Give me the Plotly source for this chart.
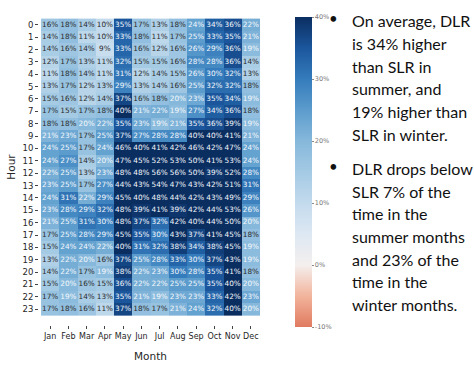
import plotly.graph_objects as go

# Percentage by which DLR exceeds SLR, by hour of day (rows) and month (columns)
months = ["Jan", "Feb", "Mar", "Apr", "May", "Jun", "Jul", "Aug", "Sep", "Oct", "Nov", "Dec"]
hours = list(range(24))
diff_pct = [
    [16, 18, 14, 10, 35, 17, 13, 18, 24, 34, 36, 22],
    [14, 18, 11, 10, 33, 18, 11, 17, 25, 33, 35, 21],
    [14, 16, 14, 9, 33, 16, 12, 16, 26, 29, 36, 19],
    [12, 17, 13, 11, 32, 15, 15, 16, 28, 28, 36, 14],
    [11, 18, 14, 11, 31, 12, 14, 15, 26, 30, 32, 13],
    [13, 17, 12, 13, 29, 13, 14, 16, 25, 32, 32, 18],
    [15, 16, 12, 14, 37, 16, 18, 20, 23, 35, 34, 19],
    [17, 15, 17, 18, 40, 21, 22, 19, 27, 34, 36, 18],
    [18, 18, 20, 22, 35, 23, 19, 21, 35, 36, 39, 19],
    [21, 23, 17, 25, 37, 27, 28, 28, 40, 40, 41, 21],
    [24, 25, 17, 24, 46, 40, 41, 42, 46, 42, 47, 24],
    [24, 27, 14, 20, 47, 45, 52, 53, 50, 41, 53, 24],
    [22, 25, 13, 23, 48, 48, 56, 56, 50, 39, 52, 28],
    [23, 25, 17, 27, 44, 43, 54, 47, 43, 42, 51, 31],
    [24, 31, 22, 29, 45, 40, 48, 44, 42, 43, 49, 29],
    [23, 28, 29, 32, 48, 39, 41, 39, 42, 44, 53, 26],
    [21, 25, 31, 30, 48, 37, 32, 42, 40, 44, 50, 20],
    [17, 25, 28, 29, 45, 35, 30, 43, 37, 41, 45, 18],
    [15, 24, 24, 22, 40, 31, 32, 38, 34, 38, 45, 19],
    [13, 22, 20, 16, 37, 25, 28, 33, 30, 37, 43, 19],
    [14, 22, 17, 19, 38, 22, 23, 30, 28, 35, 41, 18],
    [15, 20, 16, 15, 36, 22, 22, 25, 25, 35, 40, 20],
    [17, 19, 14, 13, 35, 21, 19, 23, 23, 33, 42, 23],
    [17, 18, 16, 11, 37, 18, 17, 21, 24, 32, 40, 20],
]
colorbar_ticks = [-10, 0, 10, 20, 30, 40]
colorbar_labels = ["-10%", "0%", "10%", "20%", "30%", "40%"]

bullet_one = ["On average, DLR", "is 34% higher", "than SLR in", "summer, and",
              "19% higher than", "SLR in winter."]
bullet_two = ["DLR drops below", "SLR 7% of the", "time in the", "summer months",
              "and 23% of the", "time in the", "winter months."]

W, H = 474, 368
L, R, T, B = 39, 212, 7, 34
plot_w = W - L - R
plot_h = H - T - B


def px_x(x):
    return (x - L) / plot_w


def px_y(y):
    return (H - B - y) / plot_h


colorscale = [
    [0.0, "#e07a5f"],
    [0.1, "#f2b49c"],
    [0.2, "#f4efee"],
    [0.3, "#dde8f3"],
    [0.4, "#c3daed"],
    [0.5, "#a4cae4"],
    [0.6, "#86b8db"],
    [0.7, "#5c9ccd"],
    [0.8, "#357cbc"],
    [0.9, "#1b569c"],
    [1.0, "#0b2e61"],
]

fig = go.Figure()
fig.add_trace(go.Heatmap(
    z=diff_pct, x=months, y=hours,
    zmin=-10, zmax=40, colorscale=colorscale,
    hoverinfo="skip",
    colorbar=dict(
        x=px_x(285), xanchor="left", y=px_y(5), yanchor="top",
        thickness=17, thicknessmode="pixels",
        len=330, lenmode="pixels",
        tickmode="array", tickvals=colorbar_ticks, ticktext=colorbar_labels,
        ticks="outside", ticklen=2, tickcolor="#888",
        tickfont=dict(family="DejaVu Sans", size=6.5, color="#777"),
        outlinewidth=0,
    ),
))

# cell labels, light text on dark cells
tx, ty, tt, tc = [], [], [], []
for i, row in enumerate(diff_pct):
    for j, v in enumerate(row):
        tx.append(months[j])
        ty.append(hours[i])
        tt.append(f"{v}%")
        tc.append("#f4f8fc" if v >= 19 else "#2a2a2a")
fig.add_trace(go.Scatter(
    x=tx, y=ty, text=tt, mode="text",
    textfont=dict(family="DejaVu Sans", size=7.3, color=tc),
    hoverinfo="skip", showlegend=False,
))

annotations = []
line_h = 23.5
for k, (block, top) in enumerate([(bullet_one, 19), (bullet_two, 172)]):
    annotations.append(dict(
        x=px_x(333), y=px_y(top - 3), xref="paper", yref="paper",
        text="•", showarrow=False, xanchor="center", yanchor="middle",
        font=dict(family="Lato", size=15, color="#111"),
    ))
    for n, line in enumerate(block):
        annotations.append(dict(
            x=px_x(350), y=px_y(top + n * line_h), xref="paper", yref="paper",
            text=line, showarrow=False, xanchor="left", yanchor="middle",
            font=dict(family="Lato", size=16, color="#111"),
        ))

fig.update_layout(
    width=W, height=H,
    margin=dict(l=L, r=R, t=T, b=B),
    paper_bgcolor="white", plot_bgcolor="white",
    showlegend=False,
    annotations=annotations,
    xaxis=dict(
        type="category", tickangle=0,
        tickfont=dict(family="DejaVu Sans", size=8, color="#262626"),
        ticks="outside", ticklen=3, tickcolor="#444",
        title=dict(text="Month", font=dict(family="DejaVu Sans", size=10.5, color="#262626"), standoff=13),
        showgrid=False, zeroline=False,
    ),
    yaxis=dict(
        autorange="reversed", tickmode="array", tickvals=hours,
        tickfont=dict(family="DejaVu Sans", size=8.5, color="#262626"),
        ticks="outside", ticklen=3, tickcolor="#444",
        title=dict(text="Hour", font=dict(family="DejaVu Sans", size=10.5, color="#262626"), standoff=4),
        showgrid=False, zeroline=False,
    ),
)

fig.write_html("out.html")
